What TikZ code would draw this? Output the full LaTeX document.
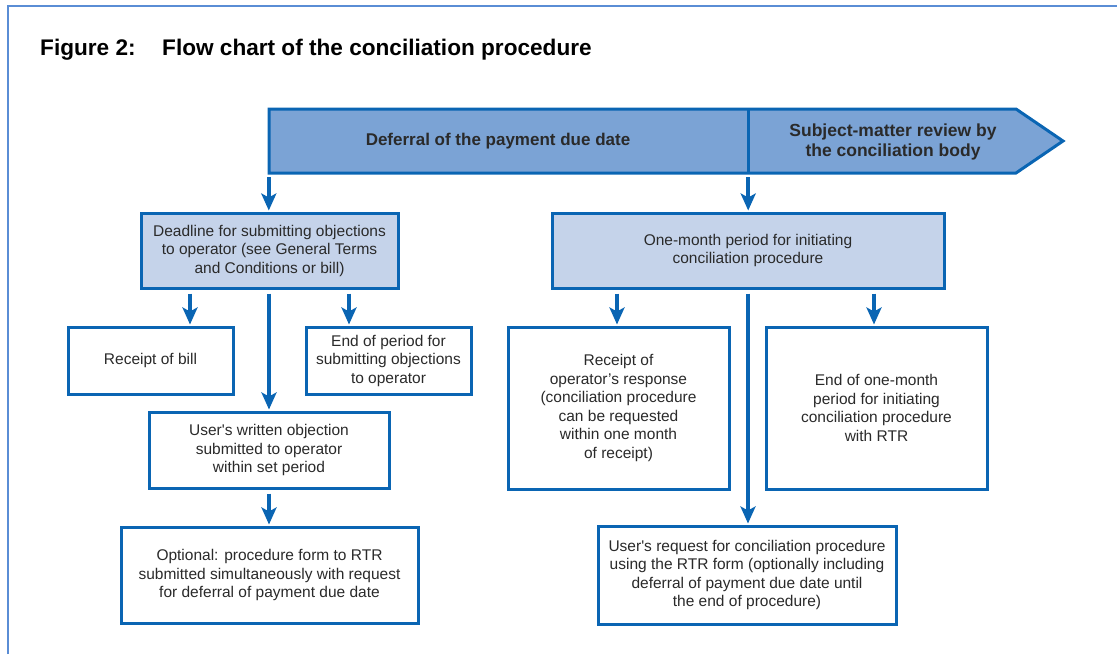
\documentclass[tikz,border=0pt]{standalone}
\usepackage{fontspec}
\setmainfont{Liberation Sans}
\usetikzlibrary{arrows.meta,calc}
\definecolor{bordc}{HTML}{0A65B3}
\definecolor{framec}{HTML}{5A8DD5}
\definecolor{banfill}{HTML}{7BA3D5}
\definecolor{lightfill}{HTML}{C5D3EA}
\definecolor{txtc}{HTML}{2A2A2A}
\tikzset{
  box/.style={draw=bordc, line width=3pt, fill=white, align=center, inner sep=0pt,
    text=txtc, font=\fontsize{15.5}{18.5}\selectfont},
  hbox/.style={box, fill=lightfill},
  arr/.style={draw=bordc, line width=4pt, -{Stealth[length=17pt,width=15pt,inset=4pt]}, shorten >=1pt},
  bantext/.style={align=center, text=txtc, font=\fontsize{17}{20}\selectfont\bfseries, inner sep=0pt},
  ttltext/.style={anchor=base west, inner sep=0pt, font=\fontsize{22.6}{26}\selectfont\bfseries},
}
\begin{document}
\begin{tikzpicture}[x=1pt,y=-1pt]
\useasboundingbox (0,0) rectangle (1117,654);
% outer frame
\draw[framec, line width=2.5pt] (8,654) -- (8,6) -- (1117,6);
% title
\node[ttltext] (fig) at (40,55) {Figure 2:};
\node[ttltext] (ttl) at (162,55) {Flow chart of the conciliation procedure};
% banner
\draw[draw=bordc, fill=banfill, line width=3pt, line join=miter] (269,109) -- (1016,109) -- (1063,141) -- (1016,173) -- (269,173) -- cycle;
\draw[bordc, line width=3pt] (748,109) -- (748,173);
\node[minimum width=479pt, minimum height=64pt, inner sep=0pt] (banL) at (508.5,141) {};
\node[bantext] (defer) at (498,141) {Deferral of the payment due date};
\node[bantext, font=\fontsize{17.5}{20}\selectfont\bfseries] (review) at (893,142) {Subject-matter review by\\the conciliation body};
% boxes
\node[hbox, minimum width=257pt, minimum height=75pt] (dead) at (269.5,250.5) {Deadline for submitting objections\\to operator (see General Terms\\and Conditions or bill)};
\node[box, minimum width=165pt, minimum height=67pt] (bill) at (150.5,360.5) {Receipt of bill};
\node[box, minimum width=165pt, minimum height=67pt] (endp) at (388.5,360.5) {End of period for\\submitting objections\\to operator};
\node[box, minimum width=240pt, minimum height=76pt] (obj) at (269,450) {User\textquotesingle s written objection\\submitted to operator\\within set period};
\node[box, minimum width=297pt, minimum height=96pt] (opt) at (269.5,575) {Optional: procedure form to RTR\\submitted simultaneously with request\\for deferral of payment due date};
\node[hbox, minimum width=392pt, minimum height=75pt] (month) at (748,250.5) {One-month period for initiating\\conciliation procedure};
\node[box, minimum width=221pt, minimum height=162pt] (resp) at (618.5,408) {Receipt of\\operator’s response\\(conciliation procedure\\can be requested\\within one month\\of receipt)};
\node[box, minimum width=221pt, minimum height=162pt] (endm) at (876.5,408) {End of one-month\\period for initiating\\conciliation procedure\\with RTR};
\node[box, minimum width=298pt, minimum height=98pt] (req) at (747,575) {User\textquotesingle s request for conciliation procedure\\using the RTR form (optionally including\\deferral of payment due date until\\the end of procedure)};
% arrow start points
\coordinate (b1) at ($(banL.south west)+(0,4)$);
\coordinate (b2) at ($(banL.south east)+(0,4)$);
\coordinate (d1) at ($(dead.south)+(-79.5,4)$);
\coordinate (d2) at ($(dead.south)+(-0.5,4)$);
\coordinate (d3) at ($(dead.south)+(79.5,4)$);
\coordinate (o1) at ($(obj.south)+(0,4)$);
\coordinate (m1) at ($(month.south)+(-131,4)$);
\coordinate (m2) at ($(month.south)+(0,4)$);
\coordinate (m3) at ($(month.south)+(126,4)$);
% arrows
\draw[arr] (b1) -- (b1 |- dead.north);
\draw[arr] (b2) -- (b2 |- month.north);
\draw[arr] (d1) -- (d1 |- bill.north);
\draw[arr] (d2) -- (d2 |- obj.north);
\draw[arr] (d3) -- (d3 |- endp.north);
\draw[arr] (o1) -- (o1 |- opt.north);
\draw[arr] (m1) -- (m1 |- resp.north);
\draw[arr] (m2) -- (m2 |- req.north);
\draw[arr] (m3) -- (m3 |- endm.north);
\end{tikzpicture}
\end{document}
